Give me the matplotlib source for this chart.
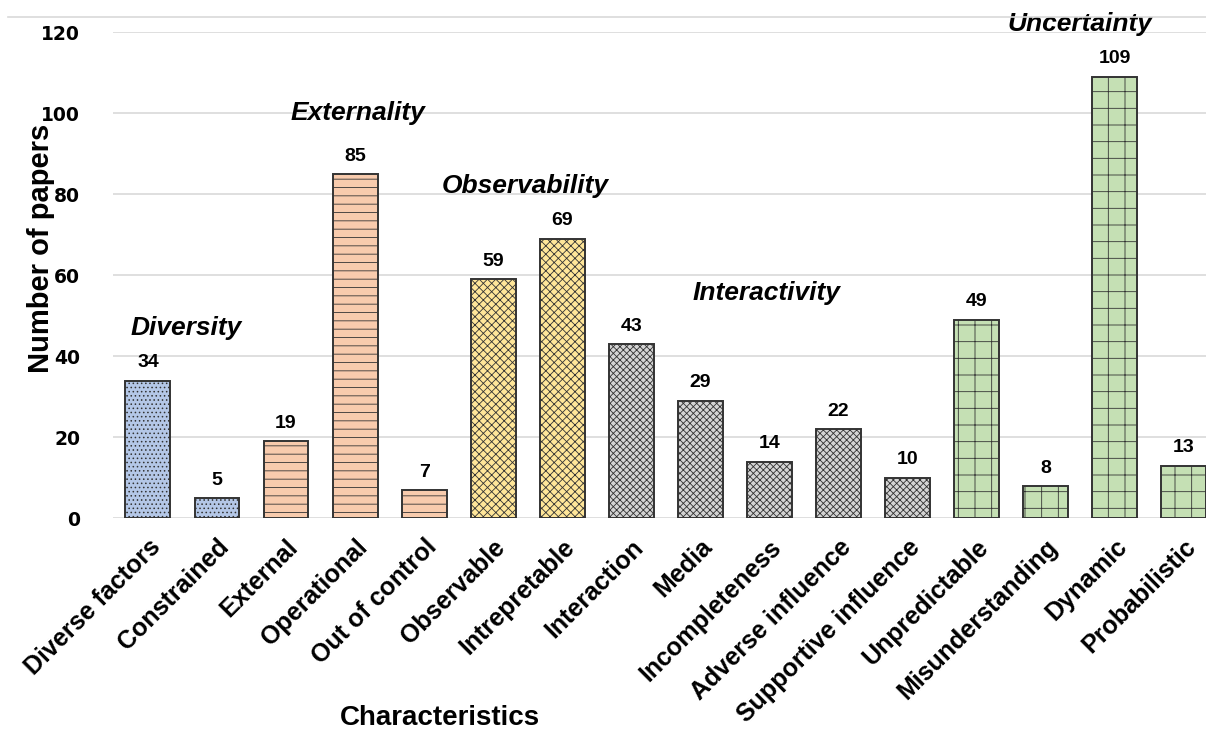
import matplotlib
matplotlib.use("Agg")
import matplotlib.pyplot as plt
from matplotlib.lines import Line2D

categories = [
    "Diverse factors", "Constrained", "External", "Operational", "Out of control",
    "Observable", "Intrepretable", "Interaction", "Media", "Incompleteness",
    "Adverse influence", "Supportive influence", "Unpredictable",
    "Misunderstanding", "Dynamic", "Probabilistic",
]
values = [34, 5, 19, 85, 7, 59, 69, 43, 29, 14, 22, 10, 49, 8, 109, 13]
groups = ["Diversity"] * 2 + ["Externality"] * 3 + ["Observability"] * 2 \
    + ["Interactivity"] * 5 + ["Uncertainty"] * 4

GROUP_STYLE = {
    "Diversity": ("#b4c7e7", "...."),
    "Externality": ("#f8cbad", "--"),
    "Observability": ("#ffe699", "xxxx"),
    "Interactivity": ("#d4d4d4", "xxxxx"),
    "Uncertainty": ("#c5e0b4", "+"),
}
# group label anchor (x in bar index units, y in data units)
GROUP_LABELS = {
    "Diversity": (0.55, 47),
    "Externality": (3.04, 100),
    "Observability": (5.47, 82),
    "Interactivity": (8.95, 55.5),
    "Uncertainty": (13.5, 122.0),
}

plt.rcParams["hatch.color"] = "#666666"
plt.rcParams["hatch.linewidth"] = 0.6

fig = plt.figure(figsize=(12.06, 7.33), dpi=100)
ax = fig.add_axes([0.094, 0.293, 0.906, 0.663])

x = range(len(categories))
for i, (v, g) in enumerate(zip(values, groups)):
    color, hatch = GROUP_STYLE[g]
    ax.bar(i, v, width=0.65, color=color, edgecolor="#333333", linewidth=1.4,
           hatch=hatch, zorder=3)
    ax.text(i, v + 2.3, str(v), ha="center", va="bottom", fontsize=14,
            fontweight="bold", family="Liberation Sans")

for g, (gx, gy) in GROUP_LABELS.items():
    ax.text(gx, gy, g, ha="center", va="center", fontsize=19, fontweight="bold",
            style="italic", family="Liberation Sans", clip_on=False)

ax.set_xlim(-0.5, 15.32)
ax.set_ylim(0, 120)
ax.set_yticks(range(0, 121, 20))
ax.set_xticks(list(x))
ax.set_xticklabels(categories, rotation=45, ha="right", rotation_mode="anchor",
                   fontsize=18, fontweight="bold", family="Liberation Sans")
for lab in ax.get_yticklabels():
    lab.set_fontsize(13.5)
    lab.set_fontweight("bold")
    lab.set_family("DejaVu Sans")
ax.tick_params(axis="x", length=0, pad=12)
ax.tick_params(axis="y", length=0, pad=24)
ax.grid(axis="y", color="#d9d9d9", linewidth=1.2, zorder=0)
for s in ax.spines.values():
    s.set_visible(False)

ax.set_ylabel("Number of papers", fontsize=21, fontweight="bold",
              family="Liberation Sans", va="center")
ax.yaxis.set_label_coords(-0.066, 0.556)
ax.set_xlabel("Characteristics", fontsize=20, fontweight="bold",
              family="Liberation Sans", va="center")
ax.xaxis.set_label_coords(0.299, -0.412)

fig.add_artist(Line2D([0.007, 1.0], [0.977, 0.977], color="#d9d9d9",
                      linewidth=1.2, transform=fig.transFigure))

fig.savefig("out.png", dpi=100)
